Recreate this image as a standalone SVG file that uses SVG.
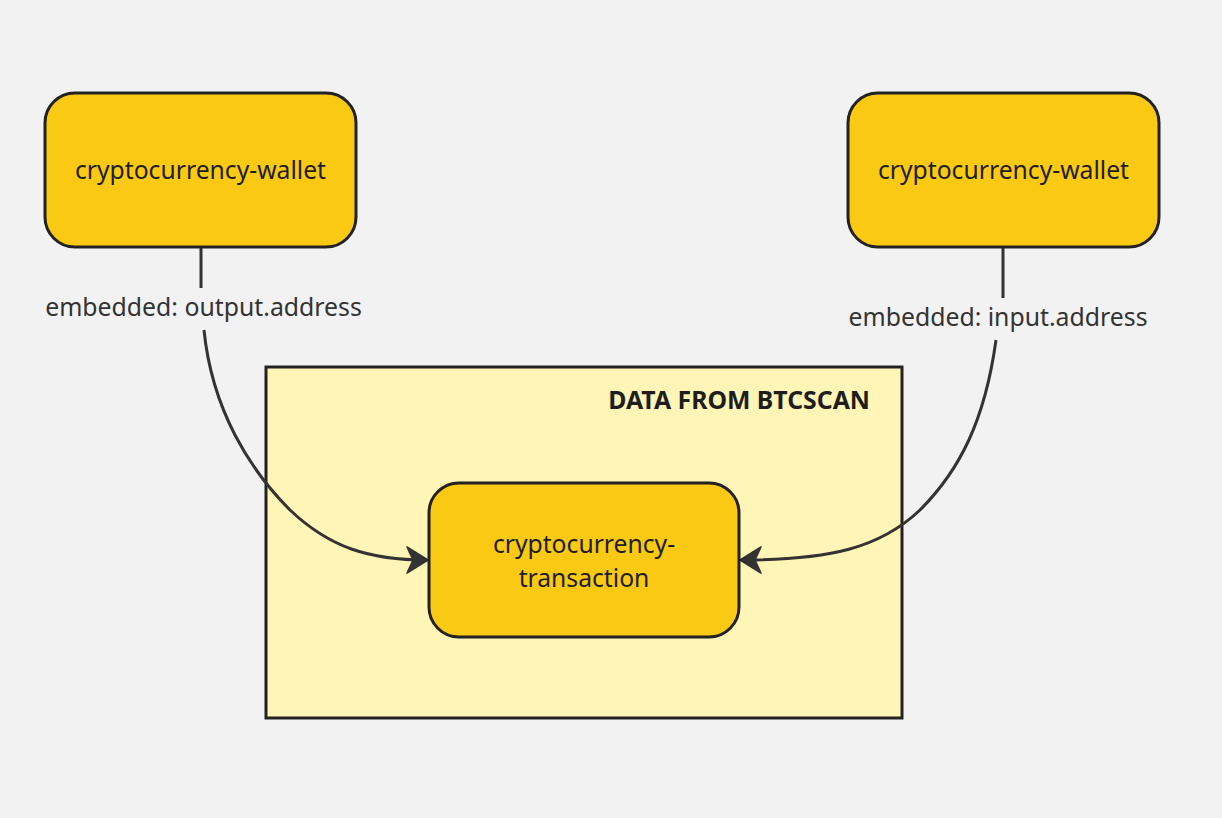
<svg xmlns="http://www.w3.org/2000/svg" width="1222" height="818" viewBox="0 0 1222 818">
<defs>
<style>
.node{fill:#f9c914;stroke:#222;stroke-width:3}
.lbl{font-family:"Noto Sans","Open Sans",sans-serif;font-size:24.7px;fill:#1e1e1e;text-anchor:middle}
.elbl{font-family:"Noto Sans","Open Sans",sans-serif;font-size:24.8px;fill:#333;text-anchor:middle}
.edge{fill:none;stroke:#333;stroke-width:3}
</style>
<marker id="arr" viewBox="0 0 22 26" refX="20" refY="13" markerWidth="22" markerHeight="26" markerUnits="userSpaceOnUse" orient="auto" overflow="visible">
<path d="M0,0 L21,13 L0,26 L6,13 Z" fill="#333" stroke="#333" stroke-width="1.5" stroke-linejoin="round"/>
</marker>
</defs>
<rect width="1222" height="818" fill="#f2f2f2"/>
<g id="cluster">
<rect x="266" y="367" width="636" height="351" fill="#fff5b6" stroke="#222" stroke-width="3"/>
<text x="870" y="409" font-family="'Noto Sans','Open Sans',sans-serif" font-size="24.8" font-weight="bold" fill="#1e1e1e" text-anchor="end">DATA FROM BTCSCAN</text>
</g>
<g id="connectors">
<path class="edge" d="M201,248 L201,288 M204,330 C212,410 250,470 290,510 C330,548 370,560 427,560" marker-end="url(#arr)"/>
<path class="edge" d="M1003,248 L1003,298 M996,340 C985,420 960,470 920,510 C880,548 830,560 741,560" marker-end="url(#arr)"/>
<text class="elbl" x="203.5" y="316">embedded: output.address</text>
<text class="elbl" x="998" y="326">embedded: input.address</text>
</g>
<g id="wallet-left">
<rect class="node" x="45" y="93" width="311" height="154" rx="30"/>
<text class="lbl" x="200.5" y="179">cryptocurrency-wallet</text>
</g>
<g id="wallet-right">
<rect class="node" x="848" y="93" width="311" height="154" rx="30"/>
<text class="lbl" x="1003.5" y="179">cryptocurrency-wallet</text>
</g>
<g id="transaction">
<rect class="node" x="429" y="483" width="310" height="154" rx="30"/>
<text class="lbl" x="584" y="553">cryptocurrency-</text>
<text class="lbl" x="584" y="587">transaction</text>
</g>
</svg>
